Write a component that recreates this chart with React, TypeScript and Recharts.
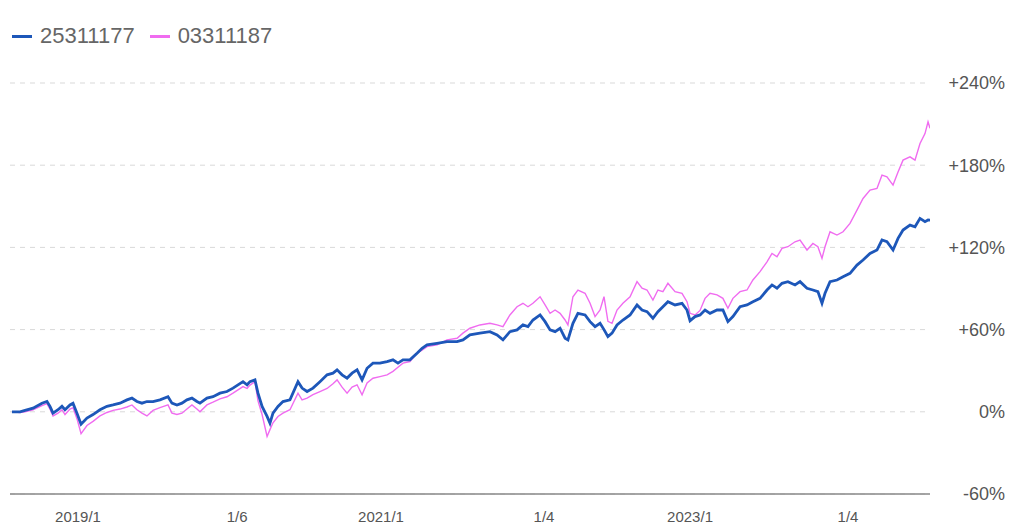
import { CartesianGrid, Line, LineChart, XAxis, YAxis } from "recharts";

// time in fractional years
const times = [
  2018.564, 2018.617, 2018.65, 2018.703, 2018.762, 2018.795, 2018.815, 2018.835, 2018.868, 2018.894,
  2018.914, 2018.947, 2018.967, 2018.993, 2019.02, 2019.059, 2019.099, 2019.145, 2019.191, 2019.231,
  2019.277, 2019.323, 2019.356, 2019.389, 2019.422, 2019.455, 2019.495, 2019.541, 2019.594, 2019.62,
  2019.653, 2019.686, 2019.719, 2019.752, 2019.785, 2019.805, 2019.851, 2019.891, 2019.937, 2019.983,
  2020.023, 2020.056,
  2020.089, 2020.116, 2020.135, 2020.168, 2020.188, 2020.215, 2020.248, 2020.267, 2020.287, 2020.32,
  2020.353, 2020.399, 2020.452, 2020.479, 2020.512, 2020.551, 2020.597, 2020.644, 2020.683, 2020.71,
  2020.743, 2020.776, 2020.809, 2020.842, 2020.875, 2020.908, 2020.947, 2020.993, 2021.04, 2021.079,
  2021.112, 2021.145, 2021.191, 2021.238, 2021.271, 2021.304, 2021.37, 2021.436, 2021.502, 2021.541,
  2021.587, 2021.653, 2021.719, 2021.766, 2021.805, 2021.851, 2021.898, 2021.937, 2021.97, 2022.003,
  2022.05, 2022.083, 2022.116, 2022.149, 2022.182, 2022.215, 2022.234, 2022.267, 2022.3, 2022.347,
  2022.38, 2022.413, 2022.446, 2022.472, 2022.498, 2022.525, 2022.558, 2022.597, 2022.644, 2022.69,
  2022.723, 2022.756, 2022.795, 2022.828, 2022.861, 2022.894, 2022.941, 2022.987, 2023.02, 2023.04,
  2023.073, 2023.106,
  2023.139, 2023.172, 2023.218, 2023.257, 2023.29, 2023.323, 2023.37, 2023.416, 2023.455, 2023.502,
  2023.548, 2023.581, 2023.614, 2023.647, 2023.686, 2023.733, 2023.766, 2023.812, 2023.851, 2023.884,
  2023.911, 2023.931, 2023.964, 2024.01, 2024.05, 2024.096, 2024.142, 2024.182, 2024.228, 2024.274,
  2024.307, 2024.34, 2024.38, 2024.413, 2024.446, 2024.492, 2024.525, 2024.558, 2024.591, 2024.611,
  2024.624,
];

// % return, 25311177
const fund1 = [
  0, 0, 1, 2.7, 6.3, 7.5, 4, -1, 1.5, 4,
  1.5, 5, 6.3, -1, -9, -4.6, -2, 1.5, 4, 5,
  6.3, 8.7, 10, 7.5, 6.3, 7.5, 7.5, 8.7, 11, 6.3,
  5, 6.3, 8.7, 10, 7.5, 6.3, 10, 11, 13.6, 14.8,
  17.3, 19.7,
  22, 19.7, 22, 23.3, 13.6, 3.9, -3.4, -8.3, -1, 3.9,
  7.5, 8.7, 22, 17.3, 14.8, 17.3, 22, 27, 28.2, 30.6,
  27, 24.6, 28.2, 30.6, 23.3, 31.8, 35.5, 35.5, 36.7, 37.9,
  35.5, 37.9, 37.9, 42.8, 46.4, 48.8, 50, 51.2, 51.2, 52.5,
  56.1, 57.4, 58.5, 56.1, 52.5, 58.5, 59.8, 63.4, 62.2, 67,
  70.7, 65.8, 59.8, 58.5, 61, 53.7, 52.5, 64.6, 71.9, 70.7,
  65.8, 62.2, 64.6, 60, 54.9, 57.4, 63.4, 67, 70.7, 78,
  74.3, 73.1, 68.3, 73.1, 76.7, 80.4, 78, 79.2, 74.3, 66.5,
  69.5, 70.7,
  74.3, 71.9, 74.3, 74.3, 65.8, 69.5, 76.7, 78, 80.4, 82.8,
  88.9, 92.6, 90.2, 93.8, 95, 92.6, 95, 90.2, 88.9, 87.7,
  79.2, 86.5, 95, 96.2, 98.6, 101.1, 107.1, 110.8, 115.6, 118.1,
  125.4, 124.1, 118.1, 126.6, 132.7, 136.3, 135.1, 141.2, 138.8, 140,
  139.9,
];

// % return, 03311187
const fund2 = [
  0, -0.5, 0, 1.5, 4.5, 6, 2, -3, -1, 1.5,
  -2, 2, 3, -5, -16, -10, -7, -3, -0.5, 1,
  2, 3.5, 5, 1.5, -1, -3, 1, 3, 5, -1,
  -2, -1, 2, 5, 2, 0, 5, 7, 9.5, 11,
  13.6, 16,
  18.4, 17, 19.5, 22, 8, -2, -18, -13, -8, -3.4,
  -1, 1.5, 13.6, 8.7, 10, 12.5, 14.8, 17, 20.5, 23.3,
  18, 13.6, 18, 19.7, 12.4, 21, 24.5, 25.7, 27, 29.5,
  32.5, 35.5, 36.7, 42.8, 45, 47.6, 48.8, 52.5, 53.7, 57.4,
  61, 63.4, 64.6, 63.4, 62.2, 70.7, 76.7, 79.2, 76.7, 79.2,
  84, 78, 71.9, 74.3, 71.9, 67, 63.4, 84, 88.9, 86.5,
  79.2, 69.5, 74.3, 84, 66, 64.6, 74.3, 79.2, 84, 95,
  90.2, 88.9, 81.6, 88.9, 87.7, 93.8, 87.7, 86.5, 80.4, 71.9,
  70.7, 74,
  82.8, 86.5, 85.3, 82.8, 75.6, 82.8, 87.7, 88.9, 96.2, 102.3,
  109.5, 115.6, 113.2, 119.3, 120.5, 124.1, 125.4, 118.1, 122.9, 120.5,
  112, 120.5, 131.4, 129, 131.4, 137.5, 147.2, 155.7, 161.8, 163,
  172.7, 171.5, 165.5, 175.1, 183.7, 186.1, 183.7, 195.8, 203.1, 211.6,
  207,
];

const xTicks = [2019.0, 2020.05, 2021.0, 2022.076, 2023.04, 2024.083];
const xLabels = ["2019/1", "1/6", "2021/1", "1/4", "2023/1", "1/4"];
const yTicks = [-60, 0, 60, 120, 180, 240];
const names = ["25311177", "03311187"];
const colors = ["#1d57b9", "#f06cf0"];

const rows = times.map((t, i) => ({ t, a: fund1[i], b: fund2[i] }));

function YTick(props: any) {
  const { x, y, payload } = props;
  const v = payload.value;
  return (
    <text x={x + 73} y={y} dy="0.355em" textAnchor="end" fill="#555" fontSize={18}>
      {v > 0 ? `+${v}%` : `${v}%`}
    </text>
  );
}

export default function App() {
  return (
    <div
      style={{
        position: "fixed",
        left: 0,
        top: 0,
        width: 1024,
        height: 530,
        background: "#fff",
        fontFamily: '"Liberation Sans", Arial, sans-serif',
      }}
    >
      <div
        style={{
          position: "absolute",
          top: 23,
          left: 12,
          display: "flex",
          alignItems: "center",
          fontSize: 22,
          color: "#666",
        }}
      >
        {names.map((n, i) => (
          <div key={n} style={{ display: "flex", alignItems: "center", marginRight: 15 }}>
            <span style={{ width: 20, height: 3, background: colors[i], marginRight: 8 }} />
            <span>{n}</span>
          </div>
        ))}
      </div>
      <LineChart width={1024} height={530} data={rows} margin={{ top: 83, right: 0, bottom: 0, left: 10 }}>
        <CartesianGrid vertical={false} stroke="#d9d9d9" strokeDasharray="5 5" />
        <XAxis
          type="number"
          dataKey="t"
          domain={[2018.551, 2024.624]}
          allowDataOverflow
          ticks={xTicks}
          interval={0}
          tickFormatter={(v) => xLabels[xTicks.indexOf(v)] ?? ""}
          height={36}
          tickSize={0}
          tickMargin={17}
          tickLine={false}
          axisLine={{ stroke: "#888", strokeWidth: 1.5 }}
          tick={{ fill: "#555", fontSize: 15 }}
        />
        <YAxis
          orientation="right"
          width={94}
          domain={[-60, 240]}
          ticks={yTicks}
          interval={0}
          axisLine={false}
          tickLine={false}
          tickSize={0}
          tick={<YTick />}
        />
        <Line type="linear" dataKey="b" stroke={colors[1]} strokeWidth={1.4} dot={false} isAnimationActive={false} />
        <Line type="linear" dataKey="a" stroke={colors[0]} strokeWidth={2.8} dot={false} isAnimationActive={false} />
      </LineChart>
    </div>
  );
}
